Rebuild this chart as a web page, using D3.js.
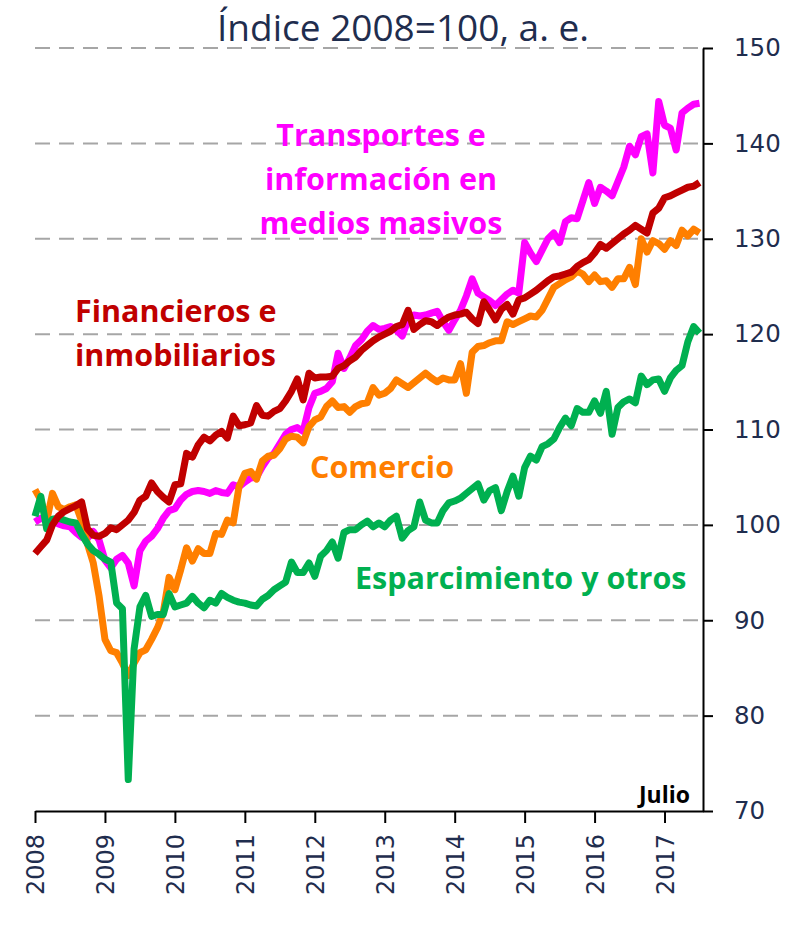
<!DOCTYPE html>
<html>
<head>
<meta charset="utf-8">
<script src="https://cdn.jsdelivr.net/npm/d3@7"></script>
<style>
  body { margin: 0; background: #fff; }
  svg { display: block; }
</style>
</head>
<body>
<div id="plot"></div>
<script>
// Tick labels
const years = ["2008","2009","2010","2011","2012","2013","2014","2015","2016","2017"];
const yTicks = [70, 80, 90, 100, 110, 120, 130, 140, 150];

// Monthly index values, Jan 2008 - Jul 2017
const transportes = [100.3,100.7,100.5,100.4,100.1,99.9,99.8,99.2,98.7,98.6,99.3,98.4,
  96.3,95.5,96.4,96.8,96.0,93.6,97.3,98.3,98.8,99.6,100.7,101.5,
  101.7,102.6,103.2,103.5,103.6,103.5,103.3,103.6,103.4,103.3,104.2,104.0,
  104.5,104.9,105.0,106.1,107.0,107.5,108.5,109.5,110.0,110.2,109.8,112.3,
  113.8,114.0,114.3,115.0,118.0,116.4,117.5,118.8,119.4,120.3,120.9,120.5,
  120.6,120.8,120.4,119.8,121.5,122.0,121.9,122.0,122.2,122.4,121.3,120.4,
  121.5,122.5,124.0,125.8,124.3,123.9,123.5,123.0,123.6,124.2,124.6,124.3,
  129.6,128.5,127.6,128.8,130.0,130.6,129.6,131.8,132.2,132.1,134.0,135.9,
  133.7,135.4,135.0,134.5,136.0,137.5,139.7,138.8,140.7,141.0,136.9,144.4,
  141.9,141.6,139.3,143.2,143.7,144.1,144.2];

const financieros = [97.0,97.7,98.4,100.0,100.9,101.4,101.7,102.0,102.4,99.6,98.9,98.8,
  99.1,99.7,99.5,100.0,100.5,101.3,102.6,103.0,104.4,103.5,102.9,102.4,
  104.2,104.3,107.5,107.1,108.4,109.2,108.8,109.4,109.8,109.1,111.4,110.4,
  110.5,110.7,112.5,111.5,111.4,111.9,112.2,113.0,114.0,115.3,113.1,115.9,
  115.4,115.5,115.5,115.6,116.4,116.7,117.2,117.6,118.3,118.8,119.3,119.7,
  120.0,120.3,120.8,121.0,122.5,120.5,121.0,121.4,121.3,120.9,121.4,121.8,
  122.0,122.1,122.3,121.6,121.1,123.4,122.5,121.5,122.6,123.1,122.1,123.6,
  123.8,124.2,124.6,125.1,125.6,126.0,126.1,126.3,126.5,127.1,127.5,127.8,
  128.5,129.4,129.0,129.5,130.0,130.5,130.9,131.4,131.0,130.6,132.7,133.2,
  134.3,134.5,134.8,135.1,135.4,135.5,135.9];

const comercio = [103.7,102.6,100.4,103.3,101.9,101.6,101.9,102.1,100.4,98.0,96.0,92.5,
  88.0,86.8,86.6,85.5,84.2,85.5,86.6,86.9,88.0,89.2,90.8,94.5,
  93.2,95.3,97.6,96.2,97.5,97.0,97.0,99.1,99.0,100.5,100.2,104.0,
  105.4,105.6,104.8,106.7,107.2,107.3,108.0,109.0,109.3,109.2,108.6,110.3,
  111.0,111.3,112.4,113.0,112.3,112.4,111.8,112.4,112.7,112.8,114.4,113.6,
  113.8,114.3,115.2,114.8,114.4,114.9,115.4,115.9,115.4,115.0,115.4,115.2,
  115.2,116.9,113.8,118.1,118.7,118.8,119.1,119.3,119.3,121.3,121.0,121.3,
  121.6,121.9,121.8,122.5,123.7,124.9,125.3,125.7,126.0,126.6,126.3,125.5,
  126.2,125.5,125.6,124.9,125.8,125.8,127.0,125.2,130.0,128.6,129.8,129.5,
  128.9,129.8,129.3,130.9,130.3,131.0,130.6];

const esparcimiento = [100.9,103.0,99.6,100.6,100.7,100.5,100.3,100.2,99.0,98.0,97.3,96.9,
  96.4,96.1,91.8,91.2,73.3,87.0,91.4,92.6,90.4,90.6,90.6,92.8,
  91.4,91.6,91.8,92.5,91.8,91.3,92.1,91.8,92.8,92.4,92.1,91.9,
  91.8,91.6,91.5,92.2,92.6,93.2,93.6,94.0,96.1,95.0,95.0,96.0,
  94.6,96.7,97.3,98.2,96.5,99.2,99.5,99.5,100.0,100.4,99.8,100.2,
  99.8,100.5,100.9,98.6,99.4,99.8,102.4,100.5,100.2,100.2,101.5,102.3,
  102.5,102.8,103.3,103.8,104.3,102.6,103.6,103.9,101.5,103.5,105.1,103.0,
  106.0,107.2,106.8,108.2,108.5,109.0,110.2,111.2,110.4,112.2,111.8,111.8,
  113.0,111.7,114.0,109.5,112.3,112.9,113.2,112.8,115.6,114.7,115.2,115.3,
  114.0,115.4,116.2,116.7,119.2,120.8,120.1];

// Dimensions
const w = 796;
const h = 928;
const plot = { left: 35, right: 703, top: 48, bottom: 811 };
const navy = "#1f2d4e";

const svg = d3.select("div#plot")
  .append("svg")
  .attr("width", w)
  .attr("height", h);

// Scales
const xScale = d3.scaleLinear().domain([0, 114.6]).range([plot.left, plot.right]);
const yScale = d3.scaleLinear().domain([70, 150]).range([plot.bottom, plot.top]);

// Dashed gridlines
svg.append("g")
  .selectAll("line")
  .data(yTicks.filter(d => d > 70))
  .enter().append("line")
  .attr("x1", plot.left)
  .attr("x2", plot.right)
  .attr("y1", d => yScale(d))
  .attr("y2", d => yScale(d))
  .attr("stroke", "#a6a6a6")
  .attr("stroke-width", 2)
  .attr("stroke-dasharray", "15,9");

// Right axis
const yAxis = svg.append("g")
  .attr("transform", `translate(${plot.right},0)`)
  .call(d3.axisRight(yScale).tickValues(yTicks).tickSize(10).tickSizeOuter(0).tickPadding(21));
yAxis.selectAll("path, line").attr("stroke", "#000").attr("stroke-width", 2);
yAxis.selectAll("text")
  .attr("font-family", "DejaVu Sans")
  .attr("font-size", 24.5)
  .attr("fill", navy);

// Bottom axis
const xAxis = svg.append("g")
  .attr("transform", `translate(0,${plot.bottom})`)
  .call(d3.axisBottom(xScale)
    .tickValues(years.map((d, i) => i * 12))
    .tickFormat((d, i) => years[i])
    .tickSize(12)
    .tickSizeOuter(0));
xAxis.selectAll("path, line").attr("stroke", "#000").attr("stroke-width", 2);
xAxis.selectAll("text")
  .attr("font-family", "DejaVu Sans")
  .attr("font-size", 24)
  .attr("fill", navy)
  .attr("transform", "rotate(-90)")
  .attr("text-anchor", "end")
  .attr("x", -23)
  .attr("y", 0)
  .attr("dy", "0.36em");

// Lines
const line = d3.line()
  .x((d, i) => xScale(i))
  .y(d => yScale(d));

const series = [
  { values: transportes, color: "#ff00ff" },
  { values: comercio, color: "#ff7f00" },
  { values: esparcimiento, color: "#00b050" },
  { values: financieros, color: "#c00000" }
];

svg.append("g")
  .selectAll("path")
  .data(series)
  .enter().append("path")
  .attr("fill", "none")
  .attr("stroke", d => d.color)
  .attr("stroke-width", 7)
  .attr("stroke-linejoin", "round")
  .attr("d", d => line(d.values));

// Title
svg.append("text")
  .attr("x", 403)
  .attr("y", 41)
  .attr("text-anchor", "middle")
  .attr("font-family", "Open Sans")
  .attr("font-size", 37)
  .attr("fill", navy)
  .text("Índice 2008=100, a. e.");

// Series labels
function label(lines, x, y, color, anchor) {
  const t = svg.append("text")
    .attr("font-family", "Open Sans")
    .attr("font-weight", "bold")
    .attr("font-size", 30.5)
    .attr("fill", color)
    .attr("text-anchor", anchor);
  lines.forEach((s, i) => {
    t.append("tspan").attr("x", x).attr("y", y + i * 44).text(s);
  });
}
label(["Transportes e", "información en", "medios masivos"], 381, 146, "#ff00ff", "middle");
label(["Financieros e", "inmobiliarios"], 75, 322, "#c00000", "start");
label(["Comercio"], 310, 478, "#ff7f00", "start");
label(["Esparcimiento y otros"], 355, 589, "#00b050", "start");

svg.append("text")
  .attr("x", 690)
  .attr("y", 803)
  .attr("text-anchor", "end")
  .attr("font-family", "Open Sans")
  .attr("font-weight", "bold")
  .attr("font-size", 23)
  .attr("fill", "#000")
  .text("Julio");
</script>
</body>
</html>
